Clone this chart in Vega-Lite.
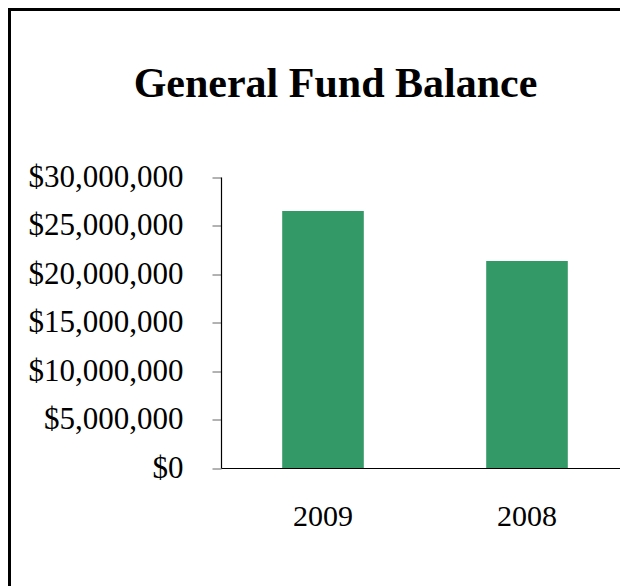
{
  "$schema": "https://vega.github.io/schema/vega-lite/v6.json",
  "autosize": {"type": "none"},
  "padding": {"left": 9.5, "top": 9.5, "right": 0, "bottom": 0},
  "width": 640,
  "height": 600,
  "background": "white",
  "config": {
    "view": {"stroke": "black", "strokeWidth": 3, "fill": "white"},
    "font": "Times New Roman, Liberation Serif, serif"
  },
  "title": {
    "text": "General Fund Balance",
    "font": "Times New Roman, Liberation Serif, serif",
    "fontSize": 42,
    "fontWeight": "bold",
    "color": "black",
    "anchor": "middle",
    "frame": "group",
    "dx": 6,
    "offset": -129.5,
    "baseline": "alphabetic"
  },
  "data": {
    "values": [
      {"year": "2009", "balance": 26500000},
      {"year": "2008", "balance": 21350000}
    ]
  },
  "mark": {"type": "bar", "color": "#339966"},
  "encoding": {
    "x": {
      "field": "year",
      "type": "nominal",
      "sort": null,
      "scale": {"range": [211.5, 619.5], "paddingInner": 0.6, "paddingOuter": 0.3},
      "axis": {
        "title": null,
        "orient": "bottom",
        "offset": -141.5,
        "labelAngle": 0,
        "ticks": false,
        "tickSize": 0,
        "labelPadding": 57,
        "labelBaseline": "alphabetic",
        "labelFont": "Times New Roman, Liberation Serif, serif",
        "labelFontSize": 30,
        "labelColor": "black",
        "domainColor": "black",
        "domainWidth": 1.2
      }
    },
    "y": {
      "field": "balance",
      "type": "quantitative",
      "scale": {"domain": [0, 30000000], "range": [458.5, 167.5], "nice": false, "zero": true},
      "axis": {
        "title": null,
        "orient": "left",
        "offset": -211.5,
        "grid": false,
        "values": [0, 5000000, 10000000, 15000000, 20000000, 25000000, 30000000],
        "format": "$,.0f",
        "tickSize": 9,
        "tickColor": "#666666",
        "labelPadding": 29,
        "labelFont": "Times New Roman, Liberation Serif, serif",
        "labelFontSize": 31,
        "labelColor": "black",
        "labelBaseline": "middle",
        "domainColor": "black",
        "domainWidth": 1.2
      }
    }
  }
}
